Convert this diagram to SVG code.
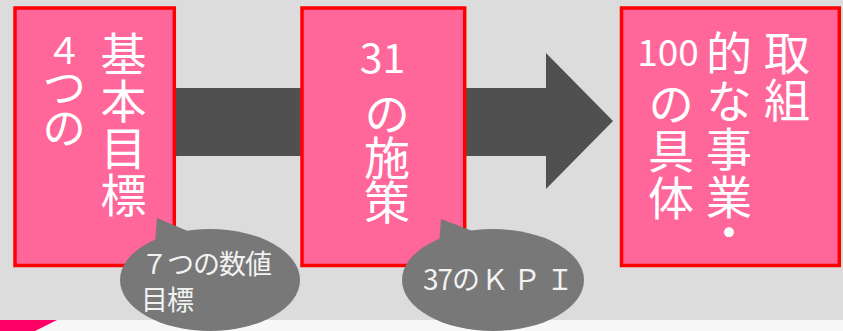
<svg xmlns="http://www.w3.org/2000/svg" width="843" height="331" viewBox="0 0 843 331">
  <style>
    .box { fill: #FF6699; stroke: #FF0000; stroke-width: 3.5; }
    .big { font-family: "Noto Sans CJK JP", "Noto Sans", sans-serif; fill: #FFFFFF; font-size: 46px; }
    .vert { writing-mode: vertical-rl; text-orientation: upright; }
    .num { text-anchor: middle; }
    .bubble { fill: #787878; }
    .btxt { font-family: "Noto Sans CJK JP", "Noto Sans", sans-serif; fill: #F2F2F2; }
  </style>
  <rect x="0" y="0" width="843" height="320" fill="#DCDCDC"/>
  <rect x="0" y="320" width="843" height="11" fill="#F7F7F7"/>
  <polygon points="0,320 57,320 35,331 0,331" fill="#FF0066"/>

  <g id="connectors">
    <path d="M174 88 H546 V53 L613 121 L546 189 V156 H174 Z" fill="#505050"/>
  </g>

  <g id="node-goals">
    <rect class="box" x="15" y="8" width="159.3" height="257.5"/>
    <text class="big vert" x="64" y="32.5" style="font-size:44px" letter-spacing="-3"><tspan style="font-size:36px">４</tspan>つの</text>
    <text class="big vert" x="123.5" y="31" letter-spacing="1">基本目標</text>
  </g>

  <g id="node-measures">
    <rect class="box" x="302" y="8" width="162.7" height="257.5"/>
    <text class="big num" x="382.5" y="73" style="font-size:41px">31</text>
    <text class="big vert" x="387" y="91" letter-spacing="-2">の施策</text>
  </g>

  <g id="node-projects">
    <rect class="box" x="621.5" y="8" width="217.8" height="257.5"/>
    <text class="big vert" x="787" y="30" letter-spacing="1">取組</text>
    <text class="big vert" x="729" y="29.5" letter-spacing="2">的な事業<tspan dy="-13">・</tspan></text>
    <text class="big num" x="668" y="66" style="font-size:37px">100</text>
    <text class="big vert" x="671" y="80.5" letter-spacing="1">の具体</text>
  </g>

  <g id="callout-numeric-targets">
    <polygon class="bubble" points="157,218 155,245 190,232"/>
    <ellipse class="bubble" cx="210" cy="280" rx="90" ry="51"/>
    <text class="btxt" font-size="27" letter-spacing="-1"><tspan x="141" y="274">７つの数値</tspan><tspan x="141" y="310">目標</tspan></text>
  </g>

  <g id="callout-kpi">
    <polygon class="bubble" points="441,219 439,245 475,232"/>
    <ellipse class="bubble" cx="493" cy="280" rx="91" ry="51"/>
    <text class="btxt" font-size="28"><tspan x="423" y="290" letter-spacing="-1">37の</tspan><tspan x="481" y="290">Ｋ</tspan><tspan x="513" y="290">Ｐ</tspan><tspan x="546" y="290">Ｉ</tspan></text>
  </g>
</svg>
